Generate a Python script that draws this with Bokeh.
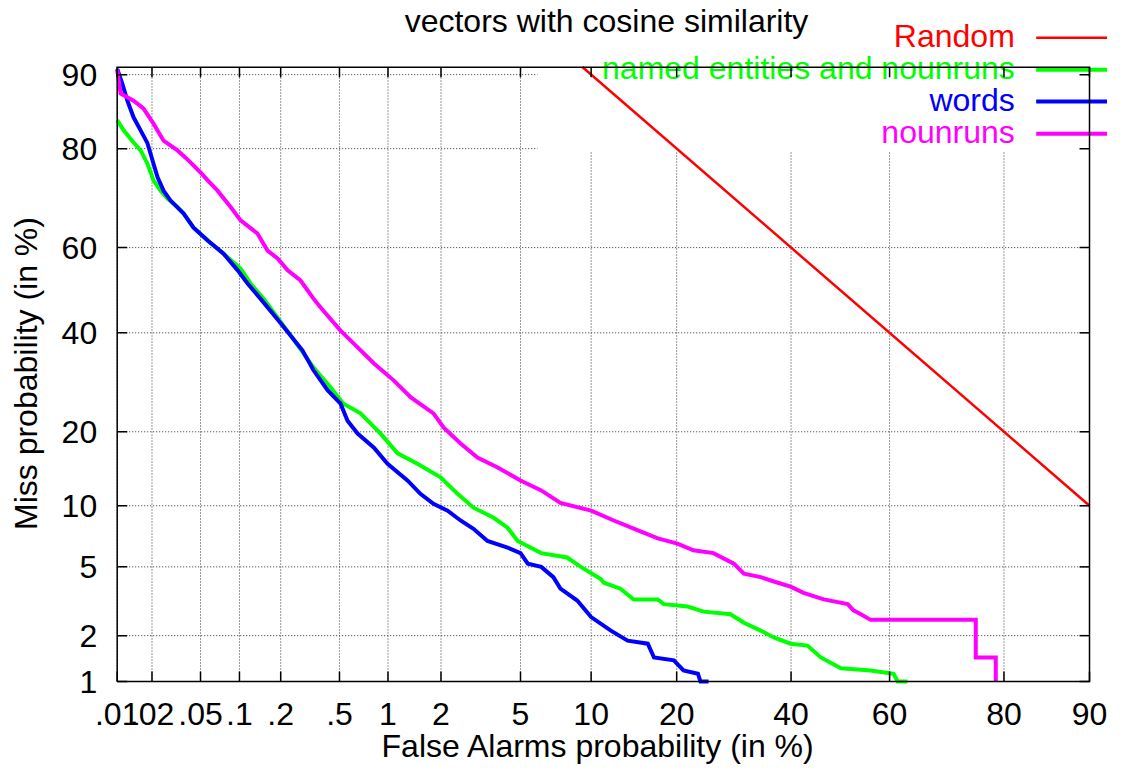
from statistics import NormalDist
import math
from bokeh.plotting import figure
from bokeh.models import Range1d, ColumnDataSource
from bokeh.core.properties import value
from bokeh.embed import file_html
from bokeh.resources import INLINE

# ---------------- data (percent) ----------------
x_tick_pct = [0.01, 0.02, 0.05, 0.1, 0.2, 0.5, 1, 2, 5, 10, 20, 40, 60, 80, 90]
x_tick_lbl = [".01", ".02", ".05", ".1", ".2", ".5", "1", "2", "5", "10", "20", "40", "60", "80", "90"]
y_tick_pct = [1, 2, 5, 10, 20, 40, 60, 80, 90]
y_tick_lbl = ["1", "2", "5", "10", "20", "40", "60", "80", "90"]

random_fa = [9.23, 90.0]
random_miss = [90.77, 10.0]

named_fa = [0.01, 0.0114, 0.0139, 0.016, 0.0183, 0.0206, 0.0236, 0.027, 0.0326, 0.0365,
            0.044, 0.057, 0.0757, 0.102, 0.121, 0.151, 0.235, 0.337, 0.437, 0.53,
            0.68, 0.903, 1.14, 1.48, 1.99, 2.45, 2.96, 3.73, 4.35, 4.85,
            6.2, 8.0, 9.1, 10.9, 11.2, 12.9, 14.4, 17.4, 18.2, 21.6,
            24.1, 28.6, 31.0, 34.1, 36.6, 39.9, 43.3, 46.0, 50.1, 56.2,
            60.8, 61.6, 63.5]
named_miss = [84.4, 82.9, 81.0, 79.7, 77.4, 74.3, 72.3, 70.7, 68.9, 67.6,
              64.5, 61.6, 58.6, 55.1, 51.6, 48.0, 39.4, 32.3, 28.2, 25.0,
              23.2, 19.7, 16.6, 15.1, 13.3, 11.3, 9.8, 8.8, 7.9, 6.8,
              5.9, 5.6, 5.0, 4.3, 4.1, 3.8, 3.3, 3.3, 3.1, 3.0,
              2.8, 2.7, 2.4, 2.15, 1.95, 1.78, 1.73, 1.45, 1.23, 1.19,
              1.13, 1.0, 1.0]

words_fa = [0.01, 0.0111, 0.0123, 0.0139, 0.016, 0.0183, 0.0206, 0.0223, 0.025, 0.0286,
            0.0365, 0.044, 0.057, 0.0757, 0.097, 0.115, 0.143, 0.2, 0.284, 0.337,
            0.418, 0.508, 0.563, 0.652, 0.82, 0.994, 1.30, 1.54, 1.82, 2.17,
            2.54, 2.96, 3.48, 4.35, 5.0, 5.4, 6.2, 7.0, 7.5, 8.8,
            10.0, 11.9, 13.7, 16.1, 16.9, 19.6, 21.0, 23.2, 23.6, 24.9]
words_miss = [90.6, 89.0, 87.0, 84.8, 82.9, 80.9, 77.4, 74.9, 72.3, 70.3,
              67.6, 64.5, 61.6, 58.6, 54.7, 51.6, 48.0, 42.2, 36.0, 31.7,
              27.6, 25.0, 21.9, 19.7, 17.5, 15.1, 12.9, 11.3, 10.2, 9.5,
              8.55, 7.8, 6.8, 6.3, 5.9, 5.2, 5.0, 4.4, 3.8, 3.25,
              2.6, 2.15, 1.86, 1.78, 1.45, 1.39, 1.19, 1.13, 1.0, 1.0]

noun_fa = [0.01, 0.0107, 0.0139, 0.0169, 0.0206, 0.025, 0.0326, 0.040, 0.050, 0.057,
           0.068, 0.086, 0.102, 0.136, 0.161, 0.19, 0.224, 0.275, 0.337, 0.376,
           0.508, 0.615, 0.82, 1.08, 1.36, 1.82, 2.07, 2.54, 3.1, 3.9,
           5.0, 6.2, 7.5, 10.0, 12.2, 14.9, 17.4, 20.1, 22.5, 25.7,
           29.2, 31.0, 34.1, 37.4, 39.9, 42.5, 46.6, 51.5, 52.7, 54.2,
           56.2, 75.7, 75.7, 78.8, 78.8]
noun_miss = [90.5, 87.9, 87.0, 86.0, 83.9, 81.3, 79.7, 78.0, 75.8, 74.3,
             72.3, 68.9, 66.1, 63.2, 59.3, 57.5, 54.7, 52.3, 48.0, 45.9,
             40.5, 37.6, 33.2, 29.6, 26.2, 23.2, 20.7, 18.1, 16.0, 14.6,
             12.9, 11.7, 10.3, 9.5, 8.55, 7.66, 7.0, 6.6, 6.1, 5.9,
             5.2, 4.6, 4.4, 4.1, 3.9, 3.6, 3.3, 3.1, 2.85, 2.7,
             2.5, 2.5, 1.45, 1.45, 1.0]

series_names = ["Random", "named entities and nounruns", "words", "nounruns"]
series_colors = ["#ff0000", "#00ff00", "#0000ff", "#ff00ff"]
series_widths = [2.5, 4, 4, 4]

title_text = "vectors with cosine similarity"
x_title = "False Alarms probability (in %)"
y_title = "Miss probability (in %)"

# ---------------- normal-deviate (DET) scale ----------------
_nd = NormalDist()


def probit(pct):
    return [_nd.inv_cdf(v / 100.0) for v in pct]


FONT = value("Liberation Sans")
FS = value("32px")
OFF = 11.5  # rendered text sits this many px below the requested baseline

W, H = 1107, 764
# plot box in canvas pixels
BL, BR, BB, BT = 116.7, 1089.0, 681.0, 66.7
X0, X1 = _nd.inv_cdf(0.0001), _nd.inv_cdf(0.90)
Y0 = _nd.inv_cdf(0.01)
XS = (BR - BL) / (X1 - X0)
YS = 168.2


def X(px):
    return X0 + (px - BL) / XS


def Y(py):
    return Y0 + (BB - py) / YS


def YB(py):  # data y for a text baseline at canvas py
    return Y(py - OFF)


YT = Y(BT)

p = figure(width=W, height=H, min_border=0,
           x_range=Range1d(X(0), X(W)), y_range=Range1d(Y(H), Y(0)),
           output_backend="svg", toolbar_location=None,
           background_fill_color="white", border_fill_color="white",
           outline_line_color=None, x_axis_location=None, y_axis_location=None)
p.xgrid.visible = False
p.ygrid.visible = False

xt = probit(x_tick_pct)
yt = probit(y_tick_pct)

# grid (dotted)
GRID = dict(line_color="#333333", line_width=1, line_dash="1 2")
p.segment(x0=xt, y0=[Y0] * len(xt), x1=xt, y1=[YT] * len(xt), **GRID)
p.segment(x0=[X0] * len(yt), y0=yt, x1=[X1] * len(yt), y1=yt, **GRID)

# opaque key box hides the grid behind the key
p.quad(left=[X(537)], right=[X1], bottom=[Y(151)], top=[YT],
       fill_color="white", line_color=None)

# key: text right-aligned, sample line to its right
row_line = [37.3, 69.3, 101.0, 133.3]
p.text(x=[X(1014.3)] * 4, y=[YB(r + 10) for r in row_line], text=series_names,
       text_color=series_colors, text_font=FONT, text_font_size=FS,
       text_align=value("right"), text_baseline=value("alphabetic"))
p.segment(x0=[X(1035.7)] * 4, y0=[Y(r) for r in row_line],
          x1=[X(W + 20)] * 4, y1=[Y(r) for r in row_line],
          line_color=series_colors, line_width=series_widths)

# curves
curves = [(random_fa, random_miss), (named_fa, named_miss),
          (words_fa, words_miss), (noun_fa, noun_miss)]
for (fa, miss), col, lw in zip(curves, series_colors, series_widths):
    src = ColumnDataSource(dict(x=probit(fa), y=probit(miss)))
    p.line("x", "y", source=src, line_color=col, line_width=lw, line_join="miter")

# border
p.line([X0, X1, X1, X0, X0], [Y0, Y0, YT, YT, Y0], line_color="black",
       line_width=1.5, line_join="miter")

# inward ticks on all four sides
TK = dict(line_color="black", line_width=1.5)
tx, ty = 10 / XS, 10 / YS
p.segment(x0=xt, y0=[Y0] * len(xt), x1=xt, y1=[Y0 + ty] * len(xt), **TK)
p.segment(x0=xt, y0=[YT] * len(xt), x1=xt, y1=[YT - ty] * len(xt), **TK)
p.segment(x0=[X0] * len(yt), y0=yt, x1=[X0 + tx] * len(yt), y1=yt, **TK)
p.segment(x0=[X1] * len(yt), y0=yt, x1=[X1 - tx] * len(yt), y1=yt, **TK)

# tick labels
p.text(x=xt, y=[YB(724.5)] * len(xt), text=x_tick_lbl, text_color="black",
       text_font=FONT, text_font_size=FS,
       text_align=value("center"), text_baseline=value("alphabetic"))
p.text(x=[X(96.7)] * len(yt), y=[v - (12 - OFF) / YS for v in yt], text=y_tick_lbl,
       text_color="black", text_font=FONT, text_font_size=FS,
       text_align=value("right"), text_baseline=value("alphabetic"))

# titles
p.text(x=[X(606)], y=[YB(31.7)], text=[title_text], text_color="black",
       text_font=FONT, text_font_size=FS,
       text_align=value("center"), text_baseline=value("alphabetic"))
p.text(x=[X(598)], y=[YB(756.5)], text=[x_title], text_color="black",
       text_font=FONT, text_font_size=FS,
       text_align=value("center"), text_baseline=value("alphabetic"))
p.text(x=[X(37 - OFF)], y=[Y(373)], text=[y_title], angle=math.pi / 2, text_color="black",
       text_font=FONT, text_font_size=FS,
       text_align=value("center"), text_baseline=value("alphabetic"))

open("out.html", "w").write(file_html(p, INLINE))
